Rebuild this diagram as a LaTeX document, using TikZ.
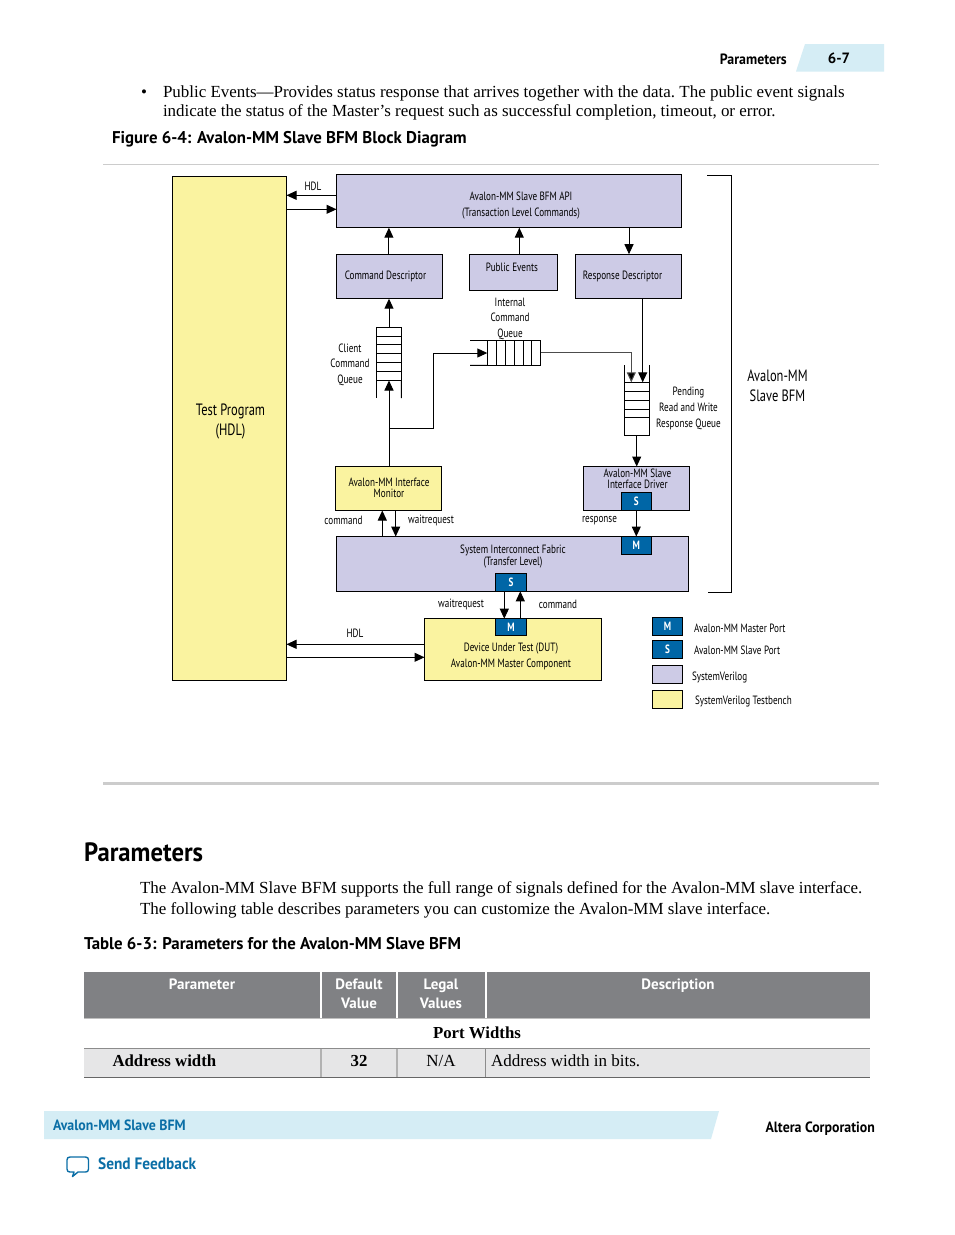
\documentclass[tikz,border=0pt]{standalone}
\usepackage{fontspec}
\usetikzlibrary{arrows.meta,calc}
\setmainfont{Liberation Serif}
\newfontfamily\dgf[FakeStretch=0.76]{PT Sans}
\newfontfamily\hdf{PT Sans Bold}
\newfontfamily\hdn[FakeStretch=0.93]{PT Sans Bold}
\newfontfamily\hdc[FakeStretch=0.99]{PT Sans Bold}
\definecolor{yel}{HTML}{FAF3A0}
\definecolor{pur}{HTML}{CDCBE6}
\definecolor{portb}{HTML}{0066A6}
\definecolor{thg}{HTML}{808184}
\definecolor{rowg}{HTML}{E6E6E7}
\definecolor{lblue}{HTML}{D5EDF5}
\definecolor{linkb}{HTML}{0A6EA6}
\newcommand{\blk}[7][]{\node[blkbase,#1,minimum width={(#5)-(#3)},minimum height={(#6)-(#4)}] (#2) at ({((#3)+(#5))/2},{((#4)+(#6))/2}) {#7};}
\tikzset{
  blkbase/.style={draw=black,line width=1pt,inner sep=0pt,outer sep=0pt,align=center},
  ylw/.style={fill=yel},
  prp/.style={fill=pur},
  prt/.style={fill=portb,text=white,font=\dgf\bfseries\fontsize{12}{12}\selectfont},
  arr/.style={-{Triangle[length=10pt,width=9pt]},line width=1pt,black},
  wire/.style={line width=1pt,black},
  dl/.style={inner sep=0pt,outer sep=0pt,align=center,yshift=-1.5pt,font=\dgf\fontsize{12}{15.6}\selectfont},
  dt/.style={inner sep=0pt,outer sep=0pt,align=center,yshift=-1pt,font=\dgf\fontsize{12}{11}\selectfont},
  dbig/.style={inner sep=0pt,outer sep=0pt,align=center,yshift=-1.5pt,font=\dgf\fontsize{16.4}{20}\selectfont},
  bodyt/.style={inner sep=0pt,outer sep=0pt,anchor=base west,font=\frenchspacing\fontsize{16.95}{20}\selectfont},
  capt/.style={inner sep=0pt,outer sep=0pt,anchor=base west,font=\hdc\fontsize{17}{20}\selectfont},
  thd/.style={inner sep=0pt,outer sep=0pt,anchor=base,text=white,font=\hdf\fontsize{15}{19}\selectfont,align=center},
  cell/.style={inner sep=0pt,outer sep=0pt,anchor=base,font=\fontsize{17}{20}\selectfont},
  cellb/.style={cell,font=\bfseries\fontsize{16.8}{20}\selectfont},
}
\begin{document}
\begin{tikzpicture}[x=1pt,y=-1pt]
\useasboundingbox[fill=white] (0,0) rectangle (954,1235);
% page header
\fill[lblue] (805,44) -- (884,44) -- (884,71.5) -- (796,71.5) -- cycle;
\node[inner sep=0,anchor=base east,font=\hdn\fontsize{14.9}{16}\selectfont] (hp) at (787,64) {Parameters};
\node[inner sep=0,anchor=base,font=\hdf\fontsize{14.9}{16}\selectfont] (hn) at (839,63) {6-7};
\node[bodyt] (bul) at (141,97) {•};
\node[bodyt] (b1) at (163,97) {Public Events—Provides status response that arrives together with the data. The public event signals};
\node[bodyt] (b2) at (163,116.3) {indicate the status of the Master’s request such as successful completion, timeout, or error.};
\node[capt] (fc) at (112,143) {Figure 6-4: Avalon-MM Slave BFM Block Diagram};
\draw[line width=1pt,black!20] (103,164.5) -- (879,164.5);
% blocks
\blk[ylw]{tp}{172.5}{176.7}{286.5}{680.5}{}
\node[dbig] (tpl) at (230.5,420) {Test Program\\(HDL)};
\blk[prp]{api}{336.5}{174.5}{681.7}{227.7}{}
\node[dl] (apil) at (521,204) {Avalon-MM Slave BFM API\\(Transaction Level Commands)};
\blk[prp]{cd}{336.5}{254.2}{442.7}{298.7}{}
\node[dl] (cdl) at (385.5,275) {Command Descriptor};
\blk[prp]{pe}{469.5}{254.2}{557.7}{290.5}{}
\node[dl] (pel) at (512,266) {Public Events};
\blk[prp]{rd}{575.5}{254.2}{681.7}{298.7}{}
\node[dl] (rdl) at (622.5,275) {Response Descriptor};
\blk[ylw]{mon}{335.5}{466.5}{441.7}{510.5}{}
\node[dt] (monl) at (389,486.5) {Avalon-MM Interface\\Monitor};
\blk[prp]{drv}{583.5}{466.5}{689.7}{510.5}{}
\node[dt] (drvl) at (637.5,477.5) {Avalon-MM Slave\\Interface Driver};
\blk[prt]{drvs}{621.3}{492.3}{651.3}{510.5}{S}
\blk[prp]{fab}{336.5}{536.5}{688.7}{591.3}{}
\node[dt] (fabl) at (513,555.8) {System Interconnect Fabric\\(Transfer Level)};
\blk[prt]{fabm}{621.3}{536.5}{651.3}{554.3}{M}
\blk[prt]{fabs}{495.3}{573.5}{526.7}{591.3}{S}
\blk[ylw]{dut}{424.5}{618.7}{601.7}{680.5}{}
\node[dl] (dutl) at (511,655) {Device Under Test (DUT)\\Avalon-MM Master Component};
\blk[prt]{dutm}{495.3}{618.7}{526.7}{635.3}{M}
% client queue
\blk{cq}{376.5}{327.5}{401.3}{380.5}{}
\draw[wire] (cq.north west) ++(0,8.5) -- ++(24.8,0) ++(-24.8,8.7) -- ++(24.8,0) ++(-24.8,9) -- ++(24.8,0) ++(-24.8,9) -- ++(24.8,0) ++(-24.8,9) -- ++(24.8,0);
\coordinate (cqa) at (376.5,398);
\coordinate (cqb) at (401.3,398);
\draw[wire] (cq.south west) -- (cqa);
\draw[wire] (cq.south east) -- (cqb);
% internal queue
\coordinate (iqa) at (470,340.2);
\coordinate (iqb) at (470,365.4);
\blk{iq}{487.3}{340.2}{540.7}{365.4}{}
\draw[wire] (iqa) -- (iq.north west);
\draw[wire] (iqb) -- (iq.south west);
\foreach \qx in {496.3,505.3,514.3,523.3,531.5} \draw[wire] (\qx,340.2) -- (\qx,365.4);
% pending queue
\blk{pq}{624.3}{382.3}{649.3}{435.3}{}
\coordinate (pqa) at (624.3,365.4);
\coordinate (pqb) at (649.3,365.4);
\draw[wire] (pq.north west) -- (pqa);
\draw[wire] (pq.north east) -- (pqb);
\foreach \qy in {391.3,400.3,409.3,417.8} \draw[wire] (624.3,\qy) -- (649.3,\qy);
% connectors
\coordinate (hdla) at (336.5,195.3);
\coordinate (hdlb) at (336.5,209.3);
\draw[arr] (hdla) -- (hdla -| tp.east);
\draw[arr] (hdlb -| tp.east) -- (hdlb);
\draw[arr] (cd.north -| cq.north) -- (cq.north |- api.south);
\coordinate (pea) at (519.3,254.2);
\draw[arr] (pea) -- (pea |- api.south);
\coordinate (rda) at (629,227.7);
\draw[arr] (rda) -- (rda |- rd.north);
\coordinate (cqu) at (389,327.5);
\draw[arr] (cqu) -- (cqu |- cd.south);
\coordinate (mona) at (389,466.5);
\draw[arr] (mona) -- (mona |- cq.south);
\coordinate (j1) at (389,428.3);
\coordinate (j2) at (433.5,428.3);
\coordinate (j3) at (433.5,353);
\draw[arr] (j1) -- (j2) -- (j3) -- (j3 -| iq.west);
\coordinate (iqo) at (540.7,352.3);
\coordinate (iqc) at (631.3,352.3);
\draw[-{Triangle[length=10pt,width=9pt,fill=black]},line width=1pt,black!70] (iqo) -- (iqc) -- (iqc |- pq.north);
\coordinate (rdb) at (642.7,298.7);
\draw[arr] (rdb) -- (rdb |- pq.north);
\coordinate (pqo) at (636.7,435.3);
\draw[arr] (pqo) -- (pqo |- drv.north);
\draw[arr] (drvs.south) -- (drvs.south |- fab.north);
\coordinate (c1) at (382.3,536.5);
\draw[arr] (c1) -- (c1 |- mon.south);
\coordinate (w1) at (395.7,510.5);
\draw[arr] (w1) -- (w1 |- fab.north);
\coordinate (w2) at (504.3,591.3);
\draw[arr] (w2) -- (w2 |- dut.north);
\coordinate (c2) at (520.3,618.7);
\draw[arr] (c2) -- (c2 |- fab.south);
\coordinate (d1) at (424.5,644.3);
\coordinate (d2) at (424.5,657.3);
\draw[arr] (d1) -- (d1 -| tp.east);
\draw[arr] (d2 -| tp.east) -- (d2);
% bracket
\coordinate (ba) at (707,175.5);
\coordinate (bb) at (731.5,175.5);
\coordinate (bc) at (731.5,592);
\coordinate (bd) at (708,592);
\draw[wire] (ba) -- (bb) -- (bc) -- (bd);
% labels
\node[dl] (l1) at (313,185) {HDL};
\node[dl] (l2) at (350,363) {Client\\Command\\Queue};
\node[dl] (l3) at (510,317) {Internal\\Command\\Queue};
\node[dl] (l4) at (688.5,407) {Pending\\Read and Write\\Response Queue};
\node[dbig] (l5) at (777.5,384.5) {Avalon-MM\\Slave BFM};
\node[dl] (l6) at (343.5,519) {command};
\node[dl] (l7) at (431,519) {waitrequest};
\node[dl] (l8) at (599.5,519) {response};
\node[dl] (l9) at (461,603) {waitrequest};
\node[dl] (l10) at (558,603) {command};
\node[dl] (l11) at (355,632) {HDL};
% legend
\blk[prt]{lm}{652.3}{617.5}{682.7}{635.3}{M}
\blk[prt]{ls}{652.3}{640.5}{682.7}{658.3}{S}
\blk[prp]{lp}{652.3}{665.7}{682.7}{683.3}{}
\blk[ylw]{ly}{652.3}{690.5}{682.7}{708.7}{}
\node[dl,anchor=west] (ll1) at (694,627) {Avalon-MM Master Port};
\node[dl,anchor=west] (ll2) at (694,649) {Avalon-MM Slave Port};
\node[dl,anchor=west] (ll3) at (692,676) {SystemVerilog};
\node[dl,anchor=west] (ll4) at (695,700) {SystemVerilog Testbench};
\draw[line width=3pt,black!20] (103,783.5) -- (879,783.5);
% parameters section
\node[inner sep=0,anchor=base west,font=\hdn\fontsize{26.5}{30}\selectfont] (ph) at (84,861) {Parameters};
\node[bodyt] (p1) at (140,893) {The Avalon-MM Slave BFM supports the full range of signals defined for the Avalon-MM slave interface.};
\node[bodyt] (p2) at (140,914) {The following table describes parameters you can customize the Avalon-MM slave interface.};
\node[capt] (tc) at (84,949) {Table 6-3: Parameters for the Avalon-MM Slave BFM};
% table
\fill[thg] (84,972.3) rectangle (320,1018);
\fill[thg] (322,972.3) rectangle (396,1018);
\fill[thg] (398,972.3) rectangle (485,1018);
\fill[thg] (487,972.3) rectangle (870,1018);
\draw[line width=1pt,black!25] (84,1018.7) -- (870,1018.7);
\fill[rowg] (84,1048.5) rectangle (870,1077);
\draw[line width=1pt,black!45] (84,1048.7) -- (870,1048.7);
\draw[line width=1pt,black!60] (84,1077.2) -- (870,1077.2);
\draw[line width=1.2pt,black!30] (321,1048.7) -- (321,1077.2);
\draw[line width=1.2pt,black!30] (397,1048.7) -- (397,1077.2);
\draw[line width=1pt,black!45] (485.5,1048.7) -- (485.5,1077.2);
\node[thd] (t1) at (202,989) {Parameter};
\node[thd] (t2) at (359,989) {Default};
\node[thd] (t2b) at (359,1008) {Value};
\node[thd] (t3) at (441,989) {Legal};
\node[thd] (t3b) at (441,1008) {Values};
\node[thd] (t4) at (678,989) {Description};
\node[cellb] (c0) at (477,1038) {Port Widths};
\node[cellb,anchor=base west] (c1t) at (112.5,1066) {Address width};
\node[cellb] (c2t) at (359,1066) {32};
\node[cell] (c3t) at (441,1066) {N/A};
\node[cell,anchor=base west] (c4t) at (491,1066) {Address width in bits.};
% footer
\fill[lblue] (44,1111) -- (719,1111) -- (711,1139) -- (44,1139) -- cycle;
\node[inner sep=0,anchor=base west,text=linkb,font=\hdn\fontsize{14.9}{16}\selectfont] (fa) at (53,1130) {Avalon-MM Slave BFM};
\node[inner sep=0,anchor=base east,font=\hdn\fontsize{14.9}{16}\selectfont] (fb) at (875,1132) {Altera Corporation};
\draw[linkb,line width=1.4pt,line join=round,fill=white] (70,1157) -- (85.5,1157) .. controls (87.5,1157) and (88.5,1158) .. (88.5,1160) -- (88.5,1169) .. controls (88.5,1171) and (87.5,1172) .. (85.5,1172) -- (78,1172) -- (72.5,1176.5) -- (74,1172) -- (70,1172) .. controls (68,1172) and (67,1171) .. (67,1169) -- (67,1160) .. controls (67,1158) and (68,1157) .. (70,1157) -- cycle;
\node[inner sep=0,anchor=base west,text=linkb,font=\hdn\fontsize{16.5}{18}\selectfont] (fs) at (98,1169) {Send Feedback};
\end{tikzpicture}
\end{document}
